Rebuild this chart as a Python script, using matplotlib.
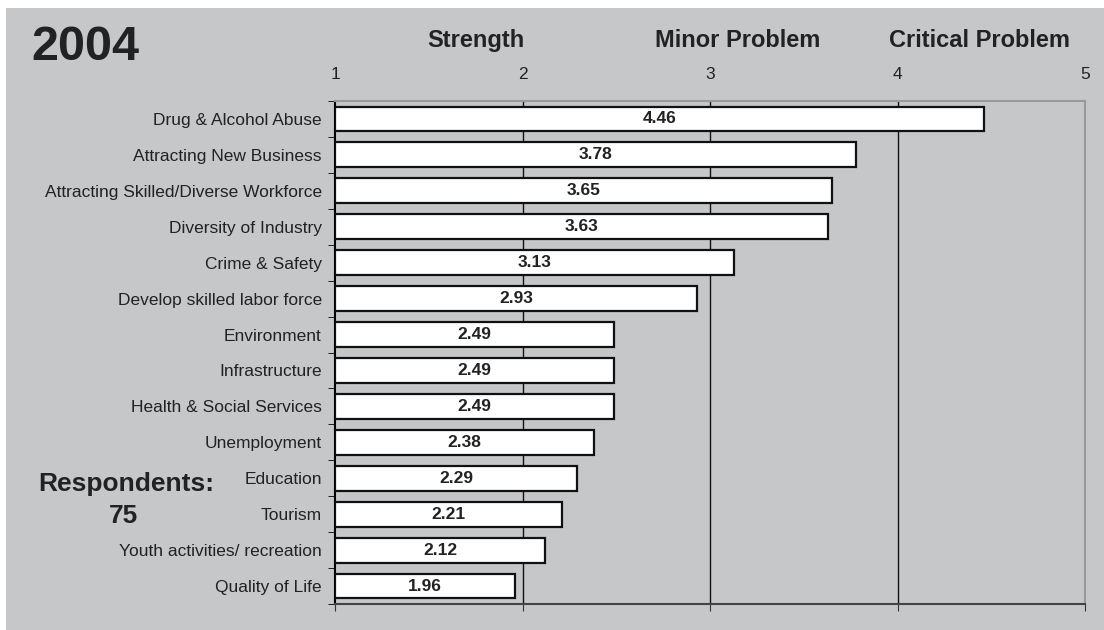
import matplotlib
matplotlib.use('Agg')

import numpy as np
import matplotlib.pyplot as plt

# Chart data
categories = [
    'Drug & Alcohol Abuse', 'Attracting New Business',
    'Attracting Skilled/Diverse Workforce', 'Diversity of Industry',
    'Crime & Safety', 'Develop skilled labor force', 'Environment',
    'Infrastructure', 'Health & Social Services', 'Unemployment',
    'Education', 'Tourism', 'Youth activities/ recreation', 'Quality of Life'
]
scores = [4.46, 3.78, 3.65, 3.63, 3.13, 2.93, 2.49, 2.49, 2.49, 2.38,
          2.29, 2.21, 2.12, 1.96]
x_ticks = [1, 2, 3, 4, 5]
scale_headers = ['Strength', 'Minor Problem', 'Critical Problem']
year = '2004'
respondents = 75

BG = '#c6c7c9'
TXT = '#222222'
plt.rcParams['font.family'] = ['Liberation Sans', 'DejaVu Sans']

fig = plt.figure(figsize=(11.04, 6.30), dpi=100)
fig.patch.set_facecolor('white')

# Gray panel behind everything
fig.patches.append(plt.Rectangle((6 / 1104, 0), 1 - 6 / 1104, 1 - 8 / 630,
                                 transform=fig.transFigure, facecolor=BG,
                                 edgecolor='none', zorder=-10))

ax = fig.add_axes([335 / 1104, 1 - 604 / 630, 750 / 1104, 503 / 630])
ax.set_facecolor(BG)

y = np.arange(len(categories))
ax.barh(y, [s - 1 for s in scores], left=1, height=0.69, color='white',
        edgecolor='#111111', linewidth=1.6, zorder=3)

for yi, s in zip(y, scores):
    ax.text(1 + (s - 1) / 2, yi, '{:.2f}'.format(s), ha='center', va='center',
            fontsize=12.5, fontweight='bold', color=TXT, zorder=4)

ax.set_xlim(1, 5)
ax.set_ylim(len(categories) - 0.5, -0.5)

# Vertical grid lines
for xv in x_ticks[1:-1]:
    ax.axvline(xv, color='#111111', linewidth=1, zorder=1)

ax.set_yticks(y)
ax.set_yticklabels(categories, fontsize=12.5, color=TXT)
ax.set_yticks(np.arange(len(categories) + 1) - 0.5, minor=True)
ax.tick_params(axis='y', which='major', length=0, pad=9.5)
ax.tick_params(axis='y', which='minor', length=5, direction='out', color='black')

ax.set_xticks(x_ticks)
ax.set_xticklabels([str(t) for t in x_ticks], fontsize=12.5, color=TXT)
ax.tick_params(axis='x', which='major', bottom=True, top=False,
               labelbottom=False, labeltop=True, length=5, direction='out',
               color='#333333', pad=9)

ax.spines['left'].set_color('black')
ax.spines['left'].set_linewidth(1.5)
ax.spines['bottom'].set_color('#444444')
ax.spines['bottom'].set_linewidth(1.5)
ax.spines['top'].set_color('#999999')
ax.spines['top'].set_linewidth(1.5)
ax.spines['right'].set_color('#999999')
ax.spines['right'].set_linewidth(1.5)

# Scale headers
for name, xpos in zip(scale_headers, [476, 738, 980]):
    fig.text(xpos / 1104, 1 - 47 / 630, name, ha='center', va='baseline',
             fontsize=17, fontweight='bold', color=TXT)

fig.text(31 / 1104, 1 - 48 / 630, year, ha='left', va='center',
         fontsize=35, fontweight='bold', color=TXT)
fig.text(38 / 1104, 1 - 484 / 630, 'Respondents:', ha='left', va='center',
         fontsize=19, fontweight='bold', color=TXT)
fig.text(124 / 1104, 1 - 516 / 630, str(respondents), ha='center', va='center',
         fontsize=19, fontweight='bold', color=TXT)

fig.savefig('out.png', dpi=100, facecolor=fig.get_facecolor())
plt.close()
